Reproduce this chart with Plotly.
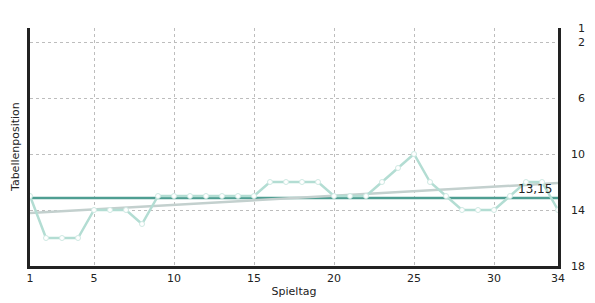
import numpy as np
import plotly.graph_objects as go

spieltage = list(range(1, 35))
positionen = [13, 16, 16, 16, 14, 14, 14, 15, 13, 13, 13, 13, 13, 13, 13,
              12, 12, 12, 12, 13, 13, 13, 12, 11, 10, 12, 13, 14, 14, 14,
              13, 12, 12, 14]
x_ticks = [1, 5, 10, 15, 20, 25, 30, 34]
y_ticks = [1, 2, 6, 10, 14, 18]

avg = float(np.mean(positionen))
slope, icpt = np.polyfit(spieltage, positionen, 1)
trend = [slope * x + icpt for x in spieltage]

W, H = 595, 303
ml, mr, mt, mb = 30, 10, 28, 37
pw = W - ml - mr
x_dom_end = (558 - ml) / pw

fig = go.Figure()
fig.add_trace(go.Scatter(x=[spieltage[0], spieltage[-1]], y=[avg, avg], mode="lines",
                         line=dict(color="#4f9e92", width=2.5), hoverinfo="skip", showlegend=False))
fig.add_trace(go.Scatter(x=spieltage, y=trend, mode="lines",
                         line=dict(color="#c3d0ce", width=2.5), hoverinfo="skip", showlegend=False))
fig.add_trace(go.Scatter(x=spieltage, y=positionen, mode="lines+markers",
                         line=dict(color="#b3ddd3", width=2.5),
                         marker=dict(size=5, color="white", line=dict(color="#cfe9e3", width=1)),
                         showlegend=False))
fig.add_trace(go.Scatter(x=[1], y=[1], yaxis="y2", mode="markers",
                         marker=dict(opacity=0), hoverinfo="skip", showlegend=False))

fig.add_annotation(x=34, y=avg, xref="x", yref="y", text=f"{avg:.2f}".replace(".", ","),
                   showarrow=False, xanchor="right", yanchor="middle", xshift=-4, yshift=9,
                   font=dict(family="DejaVu Sans", size=12, color="#222"))
fig.add_annotation(x=-15 / pw, y=0.5, xref="paper", yref="paper", text="Tabellenposition",
                   showarrow=False, textangle=-90, xanchor="center", yanchor="middle",
                   font=dict(family="DejaVu Sans", size=11, color="#222"))

fig.update_layout(
    width=W, height=H,
    margin=dict(l=ml, r=mr, t=mt, b=mb, autoexpand=False),
    paper_bgcolor="white", plot_bgcolor="white",
    font=dict(family="DejaVu Sans", size=11, color="#222"),
    xaxis=dict(domain=[0, x_dom_end], range=[1, 34], tickvals=x_ticks, automargin=False,
               showgrid=True, gridcolor="#bdbdbd", griddash="3px,3px", gridwidth=1,
               showline=True, linecolor="#222", linewidth=3, zeroline=False,
               ticks="", title=dict(text="Spieltag", standoff=4, font=dict(size=11))),
    yaxis=dict(range=[18, 1], tickvals=y_ticks, showticklabels=False, automargin=False,
               showgrid=True, gridcolor="#bdbdbd", griddash="3px,3px", gridwidth=1,
               showline=True, mirror=True, linecolor="#222", linewidth=3,
               zeroline=False, ticks=""),
    yaxis2=dict(range=[18, 1], tickvals=y_ticks, overlaying="y", side="left",
                anchor="free", position=1.0, showgrid=False, showline=False,
                automargin=False, zeroline=False, ticks=""),
)

fig.write_html("out.html")
